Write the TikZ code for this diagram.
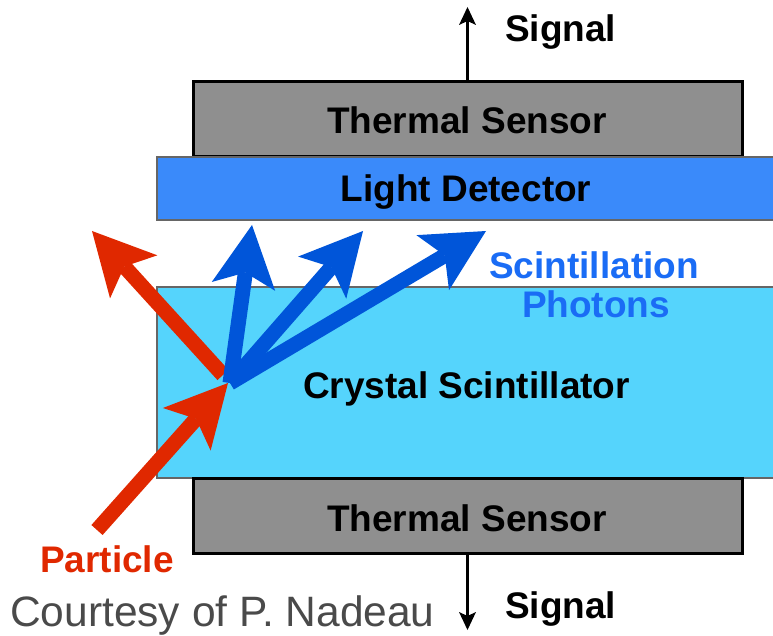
\documentclass[tikz,border=0pt]{standalone}
\usepackage{fontspec}
\setmainfont{Liberation Sans}
\usetikzlibrary{arrows.meta}
\definecolor{sensorgray}{HTML}{8F8F8F}
\definecolor{detblue}{HTML}{3A8AFA}
\definecolor{crystalblue}{HTML}{55D4FC}
\definecolor{photonblue}{HTML}{0055D9}
\definecolor{textblue}{HTML}{1A6CF5}
\definecolor{partred}{HTML}{E02800}
\definecolor{courtgray}{HTML}{4A4A4A}
\definecolor{edgegray}{HTML}{666666}
\begin{document}
\begin{tikzpicture}[x=1pt,y=-1pt,
  sensor/.style={draw=black, line width=3pt, fill=sensorgray, rectangle, inner sep=0pt},
  detector/.style={draw=edgegray, line width=2.5pt, fill=detblue, rectangle, inner sep=0pt},
  crystal/.style={draw=edgegray, line width=2.5pt, fill=crystalblue, rectangle, inner sep=0pt},
  lbl/.style={anchor=base, inner sep=0pt, font=\fontsize{37pt}{39pt}\selectfont\bfseries},
  sig/.style={line width=2.5pt, draw=black, -{Stealth[length=18pt, width=17pt, inset=4pt, line width=0pt]}},
  bigarrow/.style={line width=15pt, -{Stealth[length=62pt, width=64pt, inset=14pt, line width=0pt]}},
  photon/.style={bigarrow, draw=photonblue, fill=photonblue},
  particle/.style={bigarrow, draw=partred, fill=partred}]
\useasboundingbox (0,0) rectangle (773,636);
% boxes
\node[sensor, minimum width=549pt, minimum height=75pt] (tsTop) at (467.5,119.5) {};
\node[detector, minimum width=620pt, minimum height=63pt] (ld) at (467,188.5) {};
\node[crystal, minimum width=620pt, minimum height=191pt] (cs) at (467,382.5) {};
\node[sensor, minimum width=549pt, minimum height=75pt] (tsBot) at (467.5,515.5) {};
% labels
\node[lbl] (tsTopL) at (467,134) {Thermal Sensor};
\node[lbl] (ldL) at (466,202) {Light Detector};
\node[lbl] (csL) at (466.5,398) {Crystal Scintillator};
\node[lbl] (tsBotL) at (467,531) {Thermal Sensor};
\node[lbl, anchor=base west] (sigTopL) at (505,42) {Signal};
\node[lbl, anchor=base west] (sigBotL) at (505,618) {Signal};
\node[lbl, text=partred] (partL) at (107,572) {Particle};
\node[lbl, text=textblue] (scL) at (594,278) {Scintillation};
\node[lbl, text=textblue] (phL) at (596,317) {Photons};
\node[anchor=base west, inner sep=0pt, text=courtgray, font=\fontsize{42.5pt}{44pt}\selectfont] (court) at (10,626) {Courtesy of P. Nadeau};
% signal arrows
\coordinate (sigTopTip) at (467.5,7);
\coordinate (sigBotTip) at (467.5,630);
\draw[sig] (tsTop.north) -- (sigTopTip);
\draw[sig] (tsBot.south) -- (sigBotTip);
% particle arrows
\coordinate (pIn) at (97,530);
\coordinate (pHit) at (228,383);
\coordinate (pOutStart) at (223,375);
\coordinate (pOut) at (92,231);
\draw[particle] (pIn) -- (pHit);
\draw[particle] (pOutStart) -- (pOut);
% photon arrows
\coordinate (ph0) at (230,383);
\coordinate (ph1) at (252,225);
\coordinate (ph2) at (363,231);
\coordinate (ph3) at (486,231);
\draw[photon] (ph0) -- (ph1);
\draw[photon] (ph0) -- (ph2);
\draw[photon] (ph0) -- (ph3);
\end{tikzpicture}
\end{document}
